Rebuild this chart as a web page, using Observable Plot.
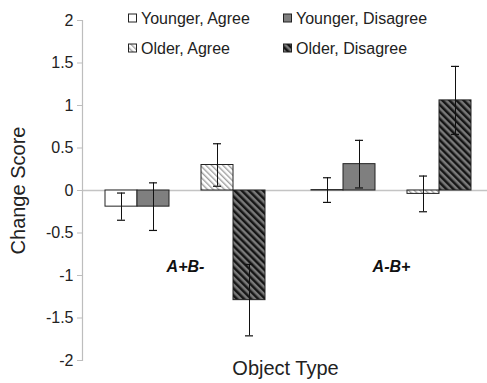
<!DOCTYPE html>
<html><head><meta charset="utf-8">
<script src="https://cdn.jsdelivr.net/npm/d3@7"></script>
<script src="https://cdn.jsdelivr.net/npm/@observablehq/plot@0.6"></script>
<style>
html,body{margin:0;padding:0;background:#fff;overflow:hidden}
#chart{position:relative;width:487px;height:383px}
</style></head><body><div id="chart"></div>
<script>
const categories = ["A+B-", "A-B+"];
const series = ["Younger, Agree", "Younger, Disagree", "Older, Agree", "Older, Disagree"];
const slots = ["Younger, Agree", "Younger, Disagree", "gap", "Older, Agree", "Older, Disagree"];
const meansAplusBminus = [-0.19, -0.19, 0.30, -1.29];
const meansAminusBplus = [0.005, 0.31, -0.04, 1.06];
const errAplusBminus = [0.16, 0.28, 0.25, 0.42];
const errAminusBplus = [0.145, 0.28, 0.21, 0.40];
const yTicks = [-2, -1.5, -1, -0.5, 0, 0.5, 1, 1.5, 2];
const fills = ["#ffffff", "#7f7f7f", "url(#hatchLight)", "url(#hatchDark)"];
const xTitle = "Object Type";
const yTitle = "Change Score";

const rows = [];
categories.forEach((c, ci) => {
  const m = ci === 0 ? meansAplusBminus : meansAminusBplus;
  const e = ci === 0 ? errAplusBminus : errAminusBplus;
  series.forEach((s, si) => rows.push({category: c, series: s, value: m[si], lo: m[si] - e[si], hi: m[si] + e[si]}));
});

const font = "'Liberation Sans', Arial, sans-serif";
const plot = Plot.plot({
  width: 487, height: 383,
  marginLeft: 82, marginRight: -7, marginTop: 20, marginBottom: 23,
  style: {fontFamily: font, fontSize: "16px", color: "#222", background: "#fff", overflow: "visible"},
  fx: {domain: categories, padding: 0, axis: null},
  x: {domain: slots, paddingInner: 0, paddingOuter: 0.71, axis: null},
  y: {domain: [-2, 2], axis: null},
  color: {type: "ordinal", domain: series, range: fills},
  marks: [
    Plot.ruleY([0], {stroke: "#c4c4c4", strokeWidth: 1.5}),
    Plot.frame({anchor: "left", facetAnchor: "left", stroke: "#bdbdbd", strokeWidth: 1.2}),
    Plot.axisY({ticks: yTicks, tickSize: 5, tickPadding: 4, stroke: "#bdbdbd", fill: "#222", fontSize: 16, tickFormat: d => String(d), label: null, facetAnchor: "left"}),
    Plot.barY(rows, {fx: "category", x: "series", y: "value", fill: "series", stroke: "#222", strokeWidth: 1}),
    Plot.ruleX(rows, {fx: "category", x: "series", y1: "lo", y2: "hi", stroke: "#111", strokeWidth: 1}),
    Plot.tickY(rows, {fx: "category", x: "series", y: "lo", insetLeft: 12, insetRight: 12, stroke: "#111", strokeWidth: 1.2}),
    Plot.tickY(rows, {fx: "category", x: "series", y: "hi", insetLeft: 12, insetRight: 12, stroke: "#111", strokeWidth: 1.2}),
    Plot.text(categories, {fx: d => d, text: d => d, frameAnchor: "middle", dy: 76, fontWeight: "bold", fontStyle: "italic", fontSize: 16, fill: "#111"}),
    Plot.text([yTitle], {text: d => d, frameAnchor: "left", facetAnchor: "left", rotate: -90, dx: -64, textAnchor: "middle", fontSize: 20, fill: "#222"}),
    Plot.text([xTitle], {text: d => d, frameAnchor: "bottom-right", facetAnchor: "left", dx: -3, dy: 14, textAnchor: "middle", fontSize: 20, fill: "#222"})
  ]
});

const svg = d3.select(plot);
const defs = svg.insert("defs", ":first-child");
function hatch(id, period, stripe, bg, fg) {
  const p = defs.append("pattern").attr("id", id).attr("patternUnits", "userSpaceOnUse")
    .attr("width", period).attr("height", period).attr("patternTransform", "rotate(-45)");
  p.append("rect").attr("width", period).attr("height", period).attr("fill", bg);
  p.append("rect").attr("width", stripe).attr("height", period).attr("fill", fg);
}
hatch("hatchLight", 4, 1.4, "#ffffff", "#a0a0a0");
hatch("hatchDark", 5, 2.5, "#7a7a7a", "#151515");

// legend (2 x 2 grid inside plot area)
const color = plot.scale("color");
const legendX = [128, 283];
const legendY = [18, 48];
const lg = svg.append("g").attr("font-family", font).attr("font-size", 16).attr("fill", "#222").attr("text-anchor", "start");
series.forEach((s, i) => {
  const col = i % 2, row = Math.floor(i / 2);
  const g = lg.append("g").attr("transform", `translate(${legendX[col]},${legendY[row]})`);
  g.append("rect").attr("x", 0.5).attr("y", -4).attr("width", 8).attr("height", 8)
    .attr("fill", color.apply(s)).attr("stroke", "#222").attr("stroke-width", 1);
  g.append("text").attr("x", 13).attr("y", 0).attr("dy", "0.35em").text(s);
});

document.getElementById("chart").appendChild(plot);
</script></body></html>
